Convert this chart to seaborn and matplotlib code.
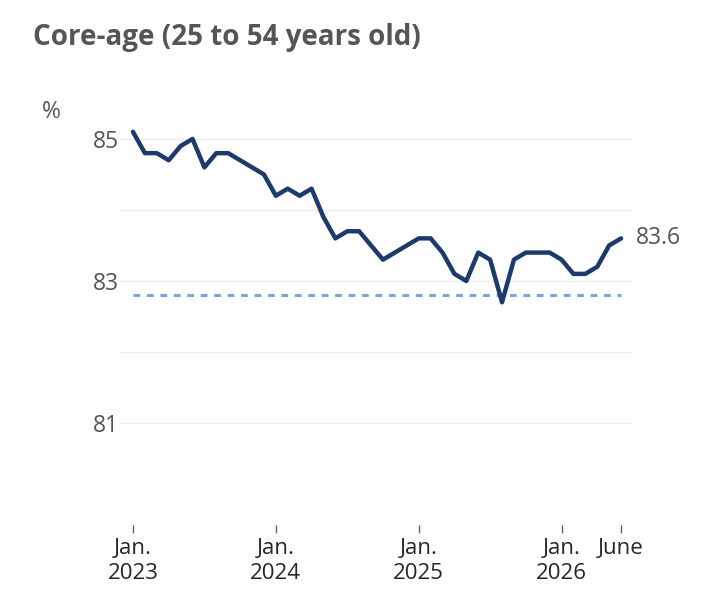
import pandas as pd
import matplotlib
matplotlib.use("Agg")
import matplotlib.pyplot as plt
import seaborn as sns

# monthly rate, Jan 2023 to June 2026
months = pd.date_range("2023-01-01", "2026-06-01", freq="MS")
rate = [
    85.1, 84.8, 84.8, 84.7, 84.9, 85.0, 84.6, 84.8, 84.8, 84.7, 84.6, 84.5,
    84.2, 84.3, 84.2, 84.3, 83.9, 83.6, 83.7, 83.7, 83.5, 83.3, 83.4, 83.5,
    83.6, 83.6, 83.4, 83.1, 83.0, 83.4, 83.3, 82.7, 83.3, 83.4, 83.4, 83.4,
    83.3, 83.1, 83.1, 83.2, 83.5, 83.6,
]
reference_level = 82.8
x_tick_pos = [0, 12, 24, 36, 41]
x_tick_labels = ["Jan.\n2023", "Jan.\n2024", "Jan.\n2025", "Jan.\n2026", "June"]
y_ticks = [81, 83, 85]

df = pd.DataFrame({"month": range(len(months)), "rate": rate})

sns.set_style("white")
plt.rcParams["font.family"] = ["Open Sans", "DejaVu Sans"]

fig = plt.figure(figsize=(7.08, 6.13), dpi=100)
ax = fig.add_axes([0.1695, 0.1941, 0.7232, 0.614])

for g in [80, 81, 82, 83, 84, 85]:
    ax.axhline(g, color="#ececec", lw=1, zorder=0)

ax.plot([0, 41], [reference_level, reference_level], color="#7da2e6",
        lw=2.2, ls=(0, (2.2, 2.2)), zorder=1)

sns.lineplot(data=df, x="month", y="rate", color="#1c3a6b", lw=3.2, ax=ax, zorder=2)

ax.text(41 + 1.25, rate[-1], f"{rate[-1]}", color="#555555", fontsize=16.5,
        va="center", ha="left")

ax.set_xlim(-1.09, 41.92)
ax.set_ylim(80, 85.3)
ax.set_yticks(y_ticks)
ax.set_yticklabels([str(v) for v in y_ticks], color="#555555")
ax.set_xticks(x_tick_pos)
ax.set_xticklabels(x_tick_labels, color="#555555", linespacing=1.65)
ax.tick_params(axis="y", length=0, pad=1, labelsize=16.5)
ax.tick_params(axis="x", bottom=True, length=6, width=1, color="#666666", pad=4,
               direction="out", labelsize=16)
for s in ["top", "right", "left"]:
    ax.spines[s].set_visible(False)
ax.spines["bottom"].set_position(("outward", 22))
ax.spines["bottom"].set_visible(False)
ax.set_xlabel("")
ax.set_ylabel("")

fig.text(33 / 708, 1 - 38 / 613, "Core-age (25 to 54 years old)", fontsize=20,
         fontweight="bold", color="#555555", va="center", ha="left")
fig.text(51 / 708, 1 - 112 / 613, "%", fontsize=16.5, color="#555555",
         va="center", ha="center")

fig.savefig("out.png", dpi=100, facecolor="white")
